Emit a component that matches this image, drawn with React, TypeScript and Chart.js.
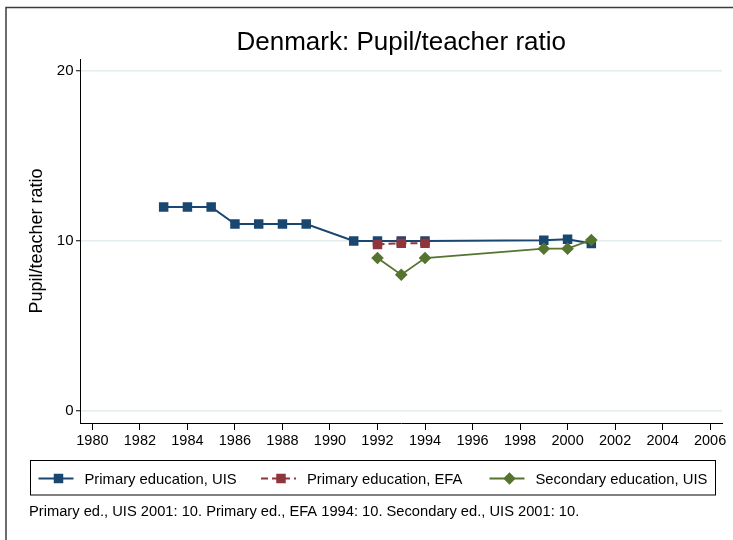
import React, { useEffect, useRef } from 'react';
import { Chart, registerables } from 'chart.js';

Chart.register(...registerables);

const chartTitle = 'Denmark: Pupil/teacher ratio';
const yAxisTitle = 'Pupil/teacher ratio';
const noteText = 'Primary ed., UIS 2001: 10. Primary ed., EFA 1994: 10. Secondary ed., UIS 2001: 10.';

const seriesLabels = ['Primary education, UIS', 'Primary education, EFA', 'Secondary education, UIS'];

const primaryUisYears = [1983, 1984, 1985, 1986, 1987, 1988, 1989, 1991, 1992, 1993, 1994, 1999, 2000, 2001];
const primaryUisValues = [12, 12, 12, 11, 11, 11, 11, 10, 10, 10, 10, 10.04, 10.1, 9.85];

const primaryEfaYears = [1992, 1993, 1994];
const primaryEfaValues = [9.8, 9.87, 9.87];

const secondaryUisYears = [1992, 1993, 1994, 1999, 2000, 2001];
const secondaryUisValues = [9.0, 8.02, 9.0, 9.55, 9.55, 10.06];

const xTickValues = [1980, 1982, 1984, 1986, 1988, 1990, 1992, 1994, 1996, 1998, 2000, 2002, 2004, 2006];
const yTickValues = [0, 10, 20];

const FONT = '"Liberation Sans", Arial, Helvetica, sans-serif';
const BLUE = '#1a476f';
const RED = '#90353b';
const GREEN = '#55752f';

const toPoints = (xs: number[], ys: number[]) => xs.map((x, i) => ({ x, y: ys[i] }));

const overlayPlugin = {
  id: 'stataOverlay',
  beforeDraw(chart: any) {
    const ctx = chart.ctx;
    ctx.save();
    ctx.fillStyle = '#ffffff';
    ctx.fillRect(0, 0, chart.width, chart.height);
    ctx.restore();
  },
  afterDraw(chart: any) {
    const ctx = chart.ctx;
    ctx.save();
    // outer frame (top and left)
    ctx.strokeStyle = '#3c3c3c';
    ctx.lineWidth = 1.5;
    ctx.beginPath();
    ctx.moveTo(6, chart.height);
    ctx.lineTo(6, 7.5);
    ctx.lineTo(chart.width, 7.5);
    ctx.stroke();

    // legend box
    ctx.strokeStyle = '#000';
    ctx.lineWidth = 1;
    ctx.strokeRect(30.5, 460.5, 685, 34.5);

    const starts = [38.5, 261, 489.5];
    const yMid = 478.5;
    chart.data.datasets.forEach((ds: any, i: number) => {
      const x0 = starts[i];
      ctx.strokeStyle = ds.borderColor;
      ctx.lineWidth = 2;
      ctx.setLineDash(ds.borderDash || []);
      ctx.beginPath();
      ctx.moveTo(x0, yMid);
      ctx.lineTo(x0 + 35, yMid);
      ctx.stroke();
      ctx.setLineDash([]);
      ctx.fillStyle = ds.pointBackgroundColor;
      const cx = x0 + 20;
      if (ds.pointStyle === 'rectRot') {
        const r = 6.2;
        ctx.beginPath();
        ctx.moveTo(cx, yMid - r);
        ctx.lineTo(cx + r, yMid);
        ctx.lineTo(cx, yMid + r);
        ctx.lineTo(cx - r, yMid);
        ctx.closePath();
        ctx.fill();
      } else {
        ctx.fillRect(cx - 4.75, yMid - 4.75, 9.5, 9.5);
      }
      ctx.fillStyle = '#000';
      ctx.font = `14.8px ${FONT}`;
      ctx.textBaseline = 'middle';
      ctx.textAlign = 'left';
      ctx.fillText(ds.label, x0 + 46, yMid + 1);
    });

    // note
    ctx.fillStyle = '#000';
    ctx.font = `14.7px ${FONT}`;
    ctx.textBaseline = 'middle';
    ctx.textAlign = 'left';
    ctx.fillText(noteText, 29, 512);
    ctx.restore();
  },
};

export default function App() {
  const canvasRef = useRef<HTMLCanvasElement | null>(null);

  useEffect(() => {
    if (!canvasRef.current) return;
    const chart = new Chart(canvasRef.current, {
      type: 'line',
      data: {
        datasets: [
          {
            label: seriesLabels[0],
            data: toPoints(primaryUisYears, primaryUisValues),
            borderColor: BLUE,
            backgroundColor: BLUE,
            pointBackgroundColor: BLUE,
            pointBorderColor: BLUE,
            borderWidth: 2,
            pointStyle: 'rect',
            pointRadius: 6.7,
            pointBorderWidth: 0,
            tension: 0,
            order: 3,
          },
          {
            label: seriesLabels[1],
            data: toPoints(primaryEfaYears, primaryEfaValues),
            borderColor: RED,
            backgroundColor: RED,
            pointBackgroundColor: RED,
            pointBorderColor: RED,
            borderWidth: 2,
            borderDash: [7, 4],
            pointStyle: 'rect',
            pointRadius: 6.7,
            pointBorderWidth: 0,
            tension: 0,
            order: 2,
          },
          {
            label: seriesLabels[2],
            data: toPoints(secondaryUisYears, secondaryUisValues),
            borderColor: GREEN,
            backgroundColor: GREEN,
            pointBackgroundColor: GREEN,
            pointBorderColor: GREEN,
            borderWidth: 1.8,
            pointStyle: 'rectRot',
            pointRadius: 6.3,
            pointBorderWidth: 0,
            tension: 0,
            order: 1,
          },
        ],
      },
      options: {
        responsive: false,
        animation: false,
        events: [],
        layout: { padding: { left: 0, right: 11, top: 0, bottom: 80 } },
        plugins: {
          legend: { display: false },
          tooltip: { enabled: false },
          title: {
            display: true,
            text: chartTitle,
            fullSize: false,
            color: '#000',
            font: { family: FONT, size: 26, weight: 'normal' },
            padding: { top: 27.4, bottom: 0.4 },
          },
        },
        scales: {
          x: {
            type: 'linear',
            min: 1979.5,
            max: 2006.5,
            afterBuildTicks: (s: any) => {
              s.ticks = xTickValues.map((v) => ({ value: v }));
            },
            afterFit: (s: any) => {
              s.height = 37;
              s.paddingLeft = 0;
              s.paddingRight = 0;
            },
            grid: { drawOnChartArea: false, tickLength: 7, tickColor: '#000', tickWidth: 1 },
            border: { color: '#000', width: 1 },
            ticks: {
              color: '#000',
              font: { family: FONT, size: 14.5 },
              padding: 2,
              autoSkip: false,
              maxRotation: 0,
              callback: (v: any) => String(v),
            },
          },
          y: {
            type: 'linear',
            min: -0.7,
            max: 20.7,
            afterBuildTicks: (s: any) => {
              s.ticks = yTickValues.map((v) => ({ value: v }));
            },
            afterFit: (s: any) => {
              s.width = 80.5;
              s.paddingTop = 0;
              s.paddingBottom = 0;
            },
            grid: { color: '#e4ecef', lineWidth: 1.5, tickColor: '#000', tickWidth: 1, tickLength: 4.5 },
            border: { color: '#000', width: 1 },
            ticks: {
              color: '#000',
              font: { family: FONT, size: 15 },
              padding: 2.5,
              callback: (v: any) => String(v),
            },
            title: {
              display: true,
              text: yAxisTitle,
              color: '#000',
              font: { family: FONT, size: 18 },
              padding: { top: 26, bottom: 0 },
            },
          },
        },
      },
      plugins: [overlayPlugin],
    });
    return () => chart.destroy();
  }, []);

  return (
    <div style={{ position: 'absolute', left: 0, top: 0, width: 733, height: 540 }}>
      <canvas ref={canvasRef} width={733} height={540} style={{ display: 'block' }} />
    </div>
  );
}
